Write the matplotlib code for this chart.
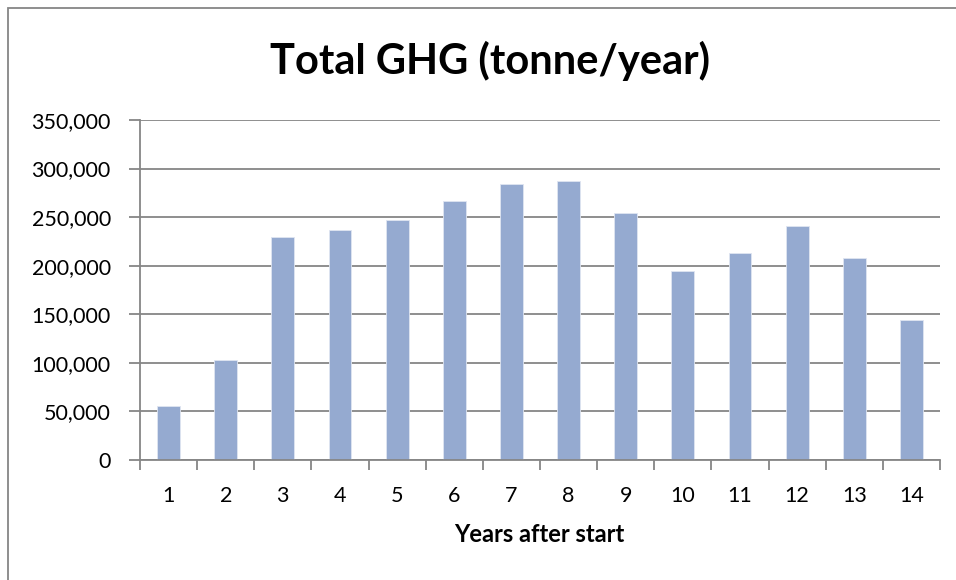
import matplotlib
matplotlib.use("Agg")
import matplotlib.pyplot as plt
from matplotlib.patches import Rectangle
from matplotlib.ticker import FuncFormatter, MultipleLocator, FixedLocator

years = [str(i) for i in range(1, 15)]
ghg = [55600, 103000, 229600, 236800, 247000, 266600, 283800,
       287500, 253900, 194600, 213100, 240500, 208300, 144500]

title = "Total GHG (tonne/year)"
xlabel = "Years after start"

bar_color = "#95aad0"
line_color = "#868686"
font = ["Lato", "DejaVu Sans"]

W, H = 956, 580
fig = plt.figure(figsize=(W / 100, H / 100), dpi=100)
fig.patch.set_facecolor("white")

# chart-area frame (only left and top edges fall inside the canvas)
fig.add_artist(Rectangle((8 / W, -0.05), 1.1, 1.05 - 8 / H,
                         transform=fig.transFigure, fill=False,
                         edgecolor=line_color, linewidth=1.3))

ax = fig.add_axes([140 / W, (H - 460) / H, 800 / W, 340 / H])
x = list(range(len(years)))
ax.bar(x, ghg, width=0.4, color=bar_color, edgecolor="#dfe5f1",
       linewidth=0.6, zorder=3)

ax.set_xlim(-0.5, len(years) - 0.5)
ax.set_ylim(0, 350000)
ax.yaxis.set_major_locator(MultipleLocator(50000))
ax.yaxis.set_major_formatter(FuncFormatter(lambda v, p: f"{int(v):,}"))
ax.grid(axis="y", color=line_color, linewidth=1.3, zorder=0)

ax.set_xticks(x)
ax.set_xticklabels(years)
ax.xaxis.set_minor_locator(FixedLocator([i - 0.5 for i in range(len(years) + 1)]))
ax.tick_params(axis="x", which="major", length=0, pad=19)
ax.tick_params(axis="x", which="minor", length=7, width=1.3, color=line_color)
ax.tick_params(axis="y", length=8, width=1.3, color=line_color, pad=13)

for s in ["top", "right"]:
    ax.spines[s].set_visible(False)
for s in ["left", "bottom"]:
    ax.spines[s].set_color(line_color)
    ax.spines[s].set_linewidth(1.3)
    ax.spines[s].set_zorder(4)

for lab in ax.get_xticklabels() + ax.get_yticklabels():
    lab.set_family(font)
    lab.set_fontsize(15.5)
    lab.set_color("black")

fig.text(539 / W, (H - 542) / H, xlabel, ha="center", va="baseline",
         family=font, fontsize=17, fontweight="bold")
fig.text(490 / W, (H - 74) / H, title, ha="center", va="baseline",
         family=font, fontsize=30, fontweight="bold")

fig.savefig("out.png", dpi=100, facecolor="white")
